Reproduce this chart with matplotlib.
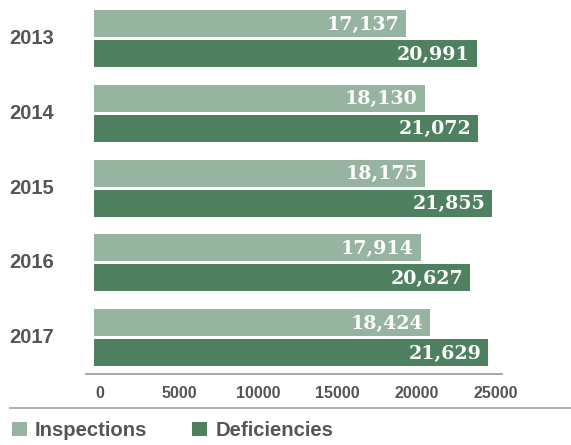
import matplotlib
matplotlib.use("Agg")
import matplotlib.pyplot as plt
import matplotlib.transforms as mtransforms
from matplotlib.patches import Patch
from matplotlib.lines import Line2D
import numpy as np

years = ["2013", "2014", "2015", "2016", "2017"]
inspections = [17137, 18130, 18175, 17914, 18424]
deficiencies = [20991, 21072, 21855, 20627, 21629]
tick_values = [0, 5000, 10000, 15000, 20000, 25000]
series_names = ["Inspections", "Deficiencies"]

LIGHT = "#97b4a0"
DARK = "#4f8161"
GRAY_TEXT = "#555555"

W, H = 571, 445
fig = plt.figure(figsize=(W / 100, H / 100), dpi=100)

# main bar axes (pixel layout)
ax_l, ax_r, ax_top, ax_bot = 86, 502, 0, 374
ax = fig.add_axes([ax_l / W, 1 - ax_bot / H, (ax_r - ax_l) / W, (ax_bot - ax_top) / H])
px_per_unit = 0.01823
zero_px = 94
ax.set_xlim((ax_l - zero_px) / px_per_unit, (ax_r - zero_px) / px_per_unit)
pitch = 74.75
c0 = 38.5
ax.set_ylim((ax_bot - c0) / pitch, -(c0 - ax_top) / pitch)

y = np.arange(len(years))
off = 15 / pitch
bh = 27 / pitch
ax.barh(y - off, inspections, height=bh, color=LIGHT)
ax.barh(y + off, deficiencies, height=bh, color=DARK)

for i in range(len(years)):
    for val, yy in ((inspections[i], y[i] - off), (deficiencies[i], y[i] + off)):
        ax.annotate(f"{val:,}", xy=(val, yy), xytext=(-7, -1), textcoords="offset pixels",
                    ha="right", va="center", color="white", fontsize=13.7,
                    fontweight="bold", family="DejaVu Serif")

for s in ["top", "right", "left"]:
    ax.spines[s].set_visible(False)
ax.spines["bottom"].set_color("#a0a0a0")
ax.spines["bottom"].set_linewidth(1.3)
ax.set_yticks([])
ax.set_xticks([])

# year labels
trans = mtransforms.blended_transform_factory(fig.transFigure, ax.transData)
for i, yr in enumerate(years):
    ax.text(9 / W, y[i], yr, transform=trans, ha="left", va="center",
            fontsize=14.5, fontweight="bold", color=GRAY_TEXT, family="Liberation Sans")

# tick labels on a separate scale
ax2 = fig.add_axes(ax.get_position())
ax2.patch.set_visible(False)
for s in ax2.spines.values():
    s.set_visible(False)
t_px_per_unit = 0.015846
t_zero = 100.1
ax2.set_xlim((ax_l - t_zero) / t_px_per_unit, (ax_r - t_zero) / t_px_per_unit)
ax2.set_yticks([])
ax2.set_xticks(tick_values)
ax2.set_xticklabels([str(v) for v in tick_values], fontsize=11.5, fontweight="bold",
                    color=GRAY_TEXT, family="Liberation Sans")
ax2.tick_params(axis="x", length=0, pad=9)
for lbl in ax2.get_xticklabels():
    lbl.set_clip_on(False)

# separator line
fig.add_artist(Line2D([10 / W, 1], [1 - 408 / H, 1 - 408 / H], transform=fig.transFigure,
                      color="#aaaaaa", linewidth=1.3))

# legend
handles = [Patch(facecolor=LIGHT, edgecolor="none"), Patch(facecolor=DARK, edgecolor="none")]
leg = fig.legend(handles, series_names, loc="center left",
                 bbox_to_anchor=(12 / W, 1 - 430.5 / H), ncol=2, frameon=False,
                 prop={"family": "Liberation Sans", "weight": "bold", "size": 14.6},
                 handlelength=0.72, handleheight=0.72, handletextpad=0.42,
                 columnspacing=2.2, borderpad=0, borderaxespad=0)
for t in leg.get_texts():
    t.set_color(GRAY_TEXT)

fig.savefig("out.png", dpi=100)
